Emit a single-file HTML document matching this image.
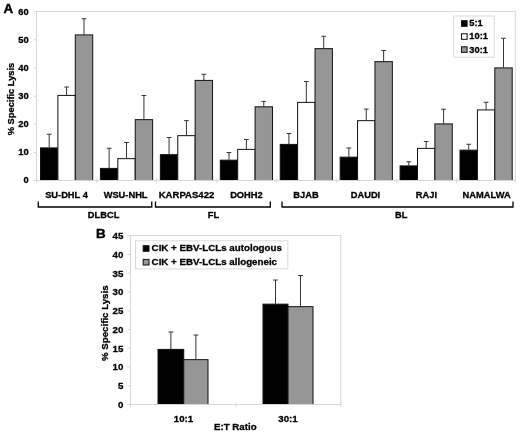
<!DOCTYPE html>
<html><head><meta charset="utf-8"><title>Figure</title>
<style>
html,body{margin:0;padding:0;background:#fff;}
svg{display:block;will-change:transform;}
.t{font-family:"Liberation Sans", Arial, sans-serif;font-weight:bold;font-size:9.3px;fill:#000;stroke:#000;stroke-width:0.3px;}
.b{font-size:9.7px;}
.lg{font-size:9.75px;}
.big{font-family:"Liberation Sans", Arial, sans-serif;font-weight:bold;font-size:13.4px;fill:#000;stroke:#000;stroke-width:0.45px;}
</style></head><body>
<svg width="520" height="434" viewBox="0 0 520 434">
<rect width="520" height="434" fill="#fff"/>
<rect x="36.5" y="11.5" width="478.79999999999995" height="169.0" fill="#fff" stroke="#d8d8d8" stroke-width="1"/>
<line x1="33.5" y1="180.50" x2="36.5" y2="180.50" stroke="#d8d8d8" stroke-width="1"/>
<text x="28.6" y="183.40" text-anchor="end" class="t">0</text>
<line x1="33.5" y1="152.38" x2="36.5" y2="152.38" stroke="#d8d8d8" stroke-width="1"/>
<text x="28.6" y="155.28" text-anchor="end" class="t">10</text>
<line x1="33.5" y1="124.25" x2="36.5" y2="124.25" stroke="#d8d8d8" stroke-width="1"/>
<text x="28.6" y="127.15" text-anchor="end" class="t">20</text>
<line x1="33.5" y1="96.12" x2="36.5" y2="96.12" stroke="#d8d8d8" stroke-width="1"/>
<text x="28.6" y="99.03" text-anchor="end" class="t">30</text>
<line x1="33.5" y1="68.00" x2="36.5" y2="68.00" stroke="#d8d8d8" stroke-width="1"/>
<text x="28.6" y="70.90" text-anchor="end" class="t">40</text>
<line x1="33.5" y1="39.88" x2="36.5" y2="39.88" stroke="#d8d8d8" stroke-width="1"/>
<text x="28.6" y="42.77" text-anchor="end" class="t">50</text>
<line x1="33.5" y1="11.75" x2="36.5" y2="11.75" stroke="#d8d8d8" stroke-width="1"/>
<text x="28.6" y="14.65" text-anchor="end" class="t">60</text>
<line x1="36.75" y1="178.0" x2="36.75" y2="183.0" stroke="#d8d8d8" stroke-width="1"/>
<line x1="96.75" y1="178.0" x2="96.75" y2="183.0" stroke="#d8d8d8" stroke-width="1"/>
<line x1="156.75" y1="178.0" x2="156.75" y2="183.0" stroke="#d8d8d8" stroke-width="1"/>
<line x1="216.75" y1="178.0" x2="216.75" y2="183.0" stroke="#d8d8d8" stroke-width="1"/>
<line x1="276.75" y1="178.0" x2="276.75" y2="183.0" stroke="#d8d8d8" stroke-width="1"/>
<line x1="336.75" y1="178.0" x2="336.75" y2="183.0" stroke="#d8d8d8" stroke-width="1"/>
<line x1="396.75" y1="178.0" x2="396.75" y2="183.0" stroke="#d8d8d8" stroke-width="1"/>
<line x1="456.75" y1="178.0" x2="456.75" y2="183.0" stroke="#d8d8d8" stroke-width="1"/>
<line x1="515.3" y1="178.0" x2="515.3" y2="183.0" stroke="#d8d8d8" stroke-width="1"/>
<path d="M49.20 147.5 V134.25 M46.85 134.25 H51.55" stroke="#333" stroke-width="1" fill="none"/>
<rect x="40.50" y="147.90" width="17.4" height="32.60" fill="#000" stroke="#111" stroke-width="1"/>
<path d="M66.60 95.0 V87.0 M64.25 87.0 H68.95" stroke="#333" stroke-width="1" fill="none"/>
<rect x="57.90" y="95.40" width="17.4" height="85.10" fill="#fff" stroke="#111" stroke-width="1"/>
<path d="M84.00 34.5 V18.75 M81.65 18.75 H86.35" stroke="#333" stroke-width="1" fill="none"/>
<rect x="75.30" y="34.90" width="17.4" height="145.60" fill="#969696" stroke="#111" stroke-width="1"/>
<text x="66.5" y="198" text-anchor="middle" class="t">SU-DHL 4</text>
<path d="M109.13 168.0 V148.25 M106.78 148.25 H111.48" stroke="#333" stroke-width="1" fill="none"/>
<rect x="100.43" y="168.40" width="17.4" height="12.10" fill="#000" stroke="#111" stroke-width="1"/>
<path d="M126.53 158.25 V142.5 M124.18 142.5 H128.88" stroke="#333" stroke-width="1" fill="none"/>
<rect x="117.83" y="158.65" width="17.4" height="21.85" fill="#fff" stroke="#111" stroke-width="1"/>
<path d="M143.93 119.25 V95.5 M141.58 95.5 H146.28" stroke="#333" stroke-width="1" fill="none"/>
<rect x="135.23" y="119.65" width="17.4" height="60.85" fill="#969696" stroke="#111" stroke-width="1"/>
<text x="125.6" y="198" text-anchor="middle" class="t">WSU-NHL</text>
<path d="M169.06 154.25 V137.5 M166.71 137.5 H171.41" stroke="#333" stroke-width="1" fill="none"/>
<rect x="160.36" y="154.65" width="17.4" height="25.85" fill="#000" stroke="#111" stroke-width="1"/>
<path d="M186.46 135.25 V120.6 M184.11 120.6 H188.81" stroke="#333" stroke-width="1" fill="none"/>
<rect x="177.76" y="135.65" width="17.4" height="44.85" fill="#fff" stroke="#111" stroke-width="1"/>
<path d="M203.86 80.0 V74.25 M201.51 74.25 H206.21" stroke="#333" stroke-width="1" fill="none"/>
<rect x="195.16" y="80.40" width="17.4" height="100.10" fill="#969696" stroke="#111" stroke-width="1"/>
<text x="186.5" y="198" text-anchor="middle" class="t" style="font-size:9.55px">KARPAS422</text>
<path d="M228.99 159.75 V152.5 M226.64 152.5 H231.34" stroke="#333" stroke-width="1" fill="none"/>
<rect x="220.29" y="160.15" width="17.4" height="20.35" fill="#000" stroke="#111" stroke-width="1"/>
<path d="M246.39 149.0 V139.5 M244.04 139.5 H248.74" stroke="#333" stroke-width="1" fill="none"/>
<rect x="237.69" y="149.40" width="17.4" height="31.10" fill="#fff" stroke="#111" stroke-width="1"/>
<path d="M263.79 106.4 V101.4 M261.44 101.4 H266.14" stroke="#333" stroke-width="1" fill="none"/>
<rect x="255.09" y="106.80" width="17.4" height="73.70" fill="#969696" stroke="#111" stroke-width="1"/>
<text x="246.4" y="198" text-anchor="middle" class="t">DOHH2</text>
<path d="M288.92 144.0 V133.5 M286.57 133.5 H291.27" stroke="#333" stroke-width="1" fill="none"/>
<rect x="280.22" y="144.40" width="17.4" height="36.10" fill="#000" stroke="#111" stroke-width="1"/>
<path d="M306.32 102.0 V81.5 M303.97 81.5 H308.67" stroke="#333" stroke-width="1" fill="none"/>
<rect x="297.62" y="102.40" width="17.4" height="78.10" fill="#fff" stroke="#111" stroke-width="1"/>
<path d="M323.72 48.25 V36.25 M321.37 36.25 H326.07" stroke="#333" stroke-width="1" fill="none"/>
<rect x="315.02" y="48.65" width="17.4" height="131.85" fill="#969696" stroke="#111" stroke-width="1"/>
<text x="306.0" y="198" text-anchor="middle" class="t">BJAB</text>
<path d="M348.85 156.75 V148.0 M346.50 148.0 H351.20" stroke="#333" stroke-width="1" fill="none"/>
<rect x="340.15" y="157.15" width="17.4" height="23.35" fill="#000" stroke="#111" stroke-width="1"/>
<path d="M366.25 120.25 V109.1 M363.90 109.1 H368.60" stroke="#333" stroke-width="1" fill="none"/>
<rect x="357.55" y="120.65" width="17.4" height="59.85" fill="#fff" stroke="#111" stroke-width="1"/>
<path d="M383.65 61.25 V50.5 M381.30 50.5 H386.00" stroke="#333" stroke-width="1" fill="none"/>
<rect x="374.95" y="61.65" width="17.4" height="118.85" fill="#969696" stroke="#111" stroke-width="1"/>
<text x="365.5" y="198" text-anchor="middle" class="t">DAUDI</text>
<path d="M408.78 165.5 V161.75 M406.43 161.75 H411.13" stroke="#333" stroke-width="1" fill="none"/>
<rect x="400.08" y="165.90" width="17.4" height="14.60" fill="#000" stroke="#111" stroke-width="1"/>
<path d="M426.18 148.0 V141.5 M423.83 141.5 H428.53" stroke="#333" stroke-width="1" fill="none"/>
<rect x="417.48" y="148.40" width="17.4" height="32.10" fill="#fff" stroke="#111" stroke-width="1"/>
<path d="M443.58 123.5 V109.25 M441.23 109.25 H445.93" stroke="#333" stroke-width="1" fill="none"/>
<rect x="434.88" y="123.90" width="17.4" height="56.60" fill="#969696" stroke="#111" stroke-width="1"/>
<text x="426.4" y="198" text-anchor="middle" class="t">RAJI</text>
<path d="M468.71 149.75 V144.25 M466.36 144.25 H471.06" stroke="#333" stroke-width="1" fill="none"/>
<rect x="460.01" y="150.15" width="17.4" height="30.35" fill="#000" stroke="#111" stroke-width="1"/>
<path d="M486.11 109.5 V102.25 M483.76 102.25 H488.46" stroke="#333" stroke-width="1" fill="none"/>
<rect x="477.41" y="109.90" width="17.4" height="70.60" fill="#fff" stroke="#111" stroke-width="1"/>
<path d="M503.51 67.5 V38.25 M501.16 38.25 H505.86" stroke="#333" stroke-width="1" fill="none"/>
<rect x="494.81" y="67.90" width="17.4" height="112.60" fill="#969696" stroke="#111" stroke-width="1"/>
<text x="486.6" y="198" text-anchor="middle" class="t">NAMALWA</text>
<line x1="36.5" y1="180.5" x2="515.3" y2="180.5" stroke="#d8d8d8" stroke-width="1"/>
<rect x="453.75" y="16.0" width="40.5" height="41.2" fill="#fff" stroke="#dadada" stroke-width="1"/>
<rect x="461.5" y="20.70" width="5.6" height="5.6" fill="#000" stroke="#111" stroke-width="1"/>
<text x="469.3" y="26.40" class="t">5:1</text>
<rect x="461.5" y="33.75" width="5.6" height="5.6" fill="#fff" stroke="#111" stroke-width="1"/>
<text x="469.3" y="39.45" class="t">10:1</text>
<rect x="461.5" y="46.80" width="5.6" height="5.6" fill="#969696" stroke="#111" stroke-width="1"/>
<text x="469.3" y="52.50" class="t">30:1</text>
<path d="M38.25 201.6 V207 H151.75 V201.6" stroke="#000" stroke-width="1.3" fill="none"/>
<path d="M155.5 201.6 V207 H270.3 V201.6" stroke="#000" stroke-width="1.3" fill="none"/>
<path d="M282 201.6 V207 H513 V201.6" stroke="#000" stroke-width="1.3" fill="none"/>
<text x="103.6" y="218" text-anchor="middle" class="t">DLBCL</text>
<text x="213.4" y="218" text-anchor="middle" class="t">FL</text>
<text x="401.3" y="217.7" text-anchor="middle" class="t">BL</text>
<text transform="translate(13.9,99) rotate(-90)" text-anchor="middle" class="t">% Specific Lysis</text>
<text x="3.4" y="12.9" class="big">A</text>
<rect x="130.5" y="235.5" width="210.30" height="169.0" fill="#fff" stroke="#d8d8d8" stroke-width="1"/>
<line x1="127.5" y1="404.50" x2="130.5" y2="404.50" stroke="#d8d8d8" stroke-width="1"/>
<text x="123.3" y="407.80" text-anchor="end" class="t b">0</text>
<line x1="127.5" y1="385.75" x2="130.5" y2="385.75" stroke="#d8d8d8" stroke-width="1"/>
<text x="123.3" y="389.05" text-anchor="end" class="t b">5</text>
<line x1="127.5" y1="367.00" x2="130.5" y2="367.00" stroke="#d8d8d8" stroke-width="1"/>
<text x="123.3" y="370.30" text-anchor="end" class="t b">10</text>
<line x1="127.5" y1="348.25" x2="130.5" y2="348.25" stroke="#d8d8d8" stroke-width="1"/>
<text x="123.3" y="351.55" text-anchor="end" class="t b">15</text>
<line x1="127.5" y1="329.50" x2="130.5" y2="329.50" stroke="#d8d8d8" stroke-width="1"/>
<text x="123.3" y="332.80" text-anchor="end" class="t b">20</text>
<line x1="127.5" y1="310.75" x2="130.5" y2="310.75" stroke="#d8d8d8" stroke-width="1"/>
<text x="123.3" y="314.05" text-anchor="end" class="t b">25</text>
<line x1="127.5" y1="292.00" x2="130.5" y2="292.00" stroke="#d8d8d8" stroke-width="1"/>
<text x="123.3" y="295.30" text-anchor="end" class="t b">30</text>
<line x1="127.5" y1="273.25" x2="130.5" y2="273.25" stroke="#d8d8d8" stroke-width="1"/>
<text x="123.3" y="276.55" text-anchor="end" class="t b">35</text>
<line x1="127.5" y1="254.50" x2="130.5" y2="254.50" stroke="#d8d8d8" stroke-width="1"/>
<text x="123.3" y="257.80" text-anchor="end" class="t b">40</text>
<line x1="127.5" y1="235.75" x2="130.5" y2="235.75" stroke="#d8d8d8" stroke-width="1"/>
<text x="123.3" y="239.05" text-anchor="end" class="t b">45</text>
<line x1="130.5" y1="402.0" x2="130.5" y2="407.0" stroke="#d8d8d8" stroke-width="1"/>
<line x1="236.0" y1="402.0" x2="236.0" y2="407.0" stroke="#d8d8d8" stroke-width="1"/>
<line x1="340.8" y1="402.0" x2="340.8" y2="407.0" stroke="#d8d8d8" stroke-width="1"/>
<path d="M170.88 349.0 V332.0 M168.53 332.0 H173.22" stroke="#333" stroke-width="1" fill="none"/>
<rect x="158.0" y="349.40" width="25.75" height="55.10" fill="#000" stroke="#111" stroke-width="1"/>
<path d="M195.88 359.25 V335.0 M193.53 335.0 H198.22" stroke="#333" stroke-width="1" fill="none"/>
<rect x="183.75" y="359.65" width="24.25" height="44.85" fill="#969696" stroke="#111" stroke-width="1"/>
<path d="M275.50 303.75 V280.0 M273.15 280.0 H277.85" stroke="#333" stroke-width="1" fill="none"/>
<rect x="263.0" y="304.15" width="25.0" height="100.35" fill="#000" stroke="#111" stroke-width="1"/>
<path d="M300.50 306.25 V275.5 M298.15 275.5 H302.85" stroke="#333" stroke-width="1" fill="none"/>
<rect x="288.0" y="306.65" width="25.0" height="97.85" fill="#969696" stroke="#111" stroke-width="1"/>
<line x1="130.5" y1="404.5" x2="340.8" y2="404.5" stroke="#d8d8d8" stroke-width="1"/>
<text x="183.5" y="422.2" text-anchor="middle" class="t b">10:1</text>
<text x="288" y="422.2" text-anchor="middle" class="t b">30:1</text>
<text x="235.3" y="430" text-anchor="middle" class="t b">E:T Ratio</text>
<rect x="135.5" y="240.8" width="152.3" height="28.1" fill="#fff" stroke="#dadada" stroke-width="1"/>
<rect x="143.2" y="245.7" width="5.8" height="5.6" fill="#000" stroke="#111" stroke-width="1"/>
<text x="151.6" y="251.2" class="t b lg">CIK + EBV-LCLs autologous</text>
<rect x="143.2" y="259.4" width="5.8" height="5.6" fill="#969696" stroke="#111" stroke-width="1"/>
<text x="151.6" y="264.9" class="t b lg">CIK + EBV-LCLs allogeneic</text>
<text transform="translate(108.1,323.2) rotate(-90)" text-anchor="middle" class="t b">% Specific Lysis</text>
<text x="96" y="238.2" class="big">B</text>
</svg>
</body></html>
